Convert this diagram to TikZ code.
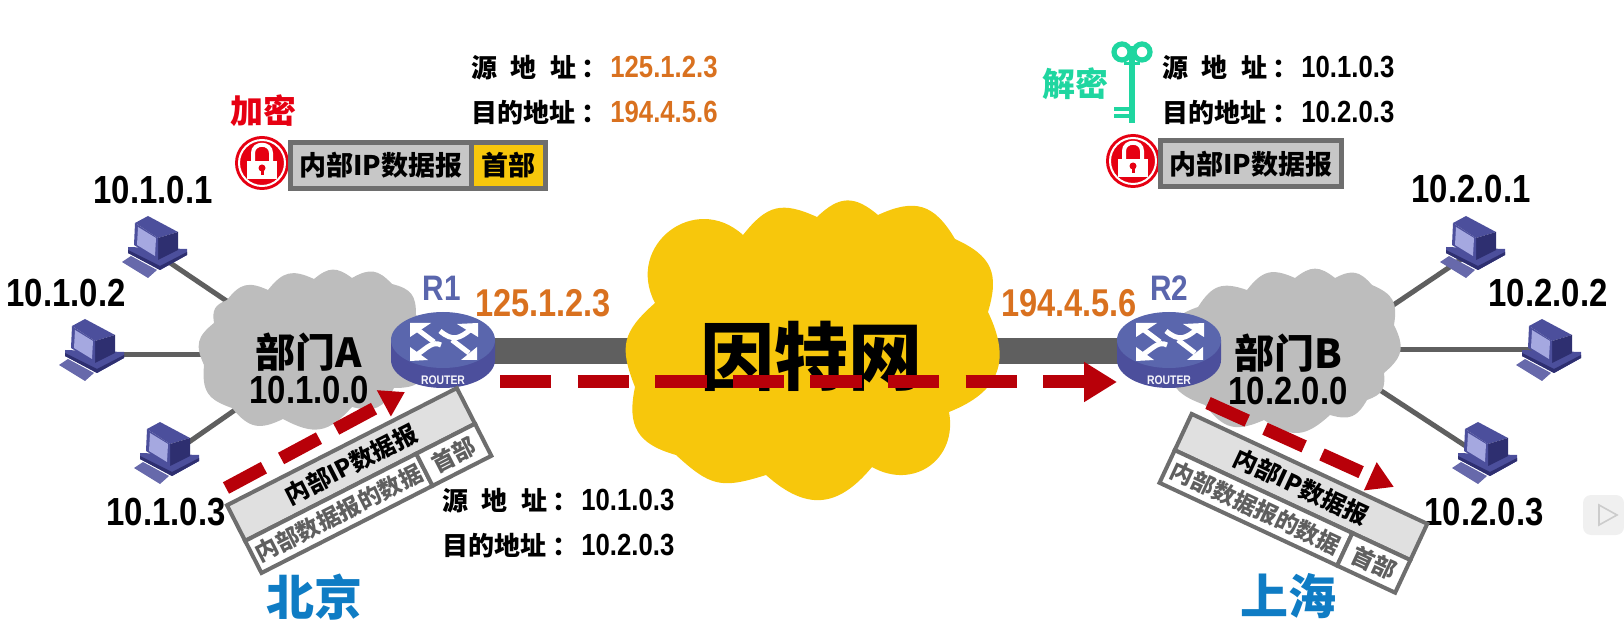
\documentclass[tikz,border=0pt]{standalone}
\usepackage{fontspec}
\setmainfont{Liberation Sans}[FakeStretch=0.84]
\newfontfamily\cjk{Noto Sans CJK SC}
\usepackage{tikz}
\usetikzlibrary{positioning, arrows.meta}
\definecolor{yelcloud}{HTML}{F7C70C}
\definecolor{graycloud}{HTML}{BDBDBD}
\definecolor{barcol}{HTML}{5F5F5F}
\definecolor{boxline}{HTML}{6E6E6E}
\definecolor{redarrow}{HTML}{B80009}
\definecolor{ipcol}{HTML}{D9711F}
\definecolor{rtcol}{HTML}{5A66AD}
\definecolor{keycol}{HTML}{1FD6A0}
\definecolor{lockred}{HTML}{E60012}
\definecolor{cityblue}{HTML}{0F7CC4}
\definecolor{pcdark}{HTML}{2E2F70}
\definecolor{pcmid}{HTML}{4C4F9C}
\definecolor{pcscreen}{HTML}{A5A8E0}
\newcommand{\fs}[1]{\fontsize{#1}{#1}\selectfont}
\newcommand{\addrend}[1]{\hspace{2.8pt}\makebox[14.2pt][l]{：}{\normalfont\bfseries\fs{15.3}#1}}
\newcommand{\srcline}[1]{\makebox[52.5pt][s]{源\hfill 地\hfill 址}\addrend{#1}}
\newcommand{\dstline}[1]{\makebox[52.5pt][s]{目的地址}\addrend{#1}}
\tikzstyle{hostip} = [font=\bfseries\fs{19.6}, inner sep=0pt]
\tikzstyle{extip} = [font=\bfseries\fs{19.4}, text=ipcol, inner sep=0pt]
\tikzstyle{rlabel} = [font=\bfseries\fs{17.7}, text=rtcol, inner sep=0pt]
\tikzstyle{addrtext} = [font=\cjk\bfseries\fs{13}, anchor=base west, inner sep=0pt]
\tikzstyle{cntext} = [font=\cjk\bfseries\fs{20}, inner sep=0pt]
\tikzstyle{citytext} = [font=\cjk\bfseries\fs{24}, text=cityblue, inner sep=0pt]
\tikzstyle{tagtext} = [font=\cjk\bfseries\fs{16.5}, inner sep=0pt]
\tikzstyle{pktrect} = [rectangle, draw=boxline, line width=2.5pt, outer sep=0pt, inner sep=0pt,
minimum height=23pt,
font=\cjk\bfseries\fs{13.5}]
\tikzstyle{slantrect} = [rectangle, draw=boxline, line width=2pt, outer sep=0pt, inner sep=0pt,
font=\cjk\bfseries\fs{12}]
\tikzstyle{slantlow} = [slantrect, fill=white, anchor=north west, minimum height=18pt,
text=barcol, font=\cjk\bfseries\fs{11.5}]
\tikzstyle{link} = [draw=barcol, line width=2.5pt]
\tikzstyle{redflow} = [draw=redarrow, line width=6.5pt, dash pattern=on 21.5pt off 9.75pt]
\tikzstyle{lobes} = [every to/.style={bend left=38, looseness=1.3}]
\tikzset{
  pc/.pic={
    \fill[pcmid] (-26,-5) -- (33,-3) -- (33,3) -- (6,18) -- (-26,1) -- cycle;
    \fill[pcdark] (-26,1) -- (6,18) -- (33,3) -- (33,0) -- (6,14) -- (-26,-2) -- cycle;
    \fill[pcmid!85!white] (-32,10) -- (-23,4) -- (3,18) -- (-6,26) -- cycle;
    \fill[pcmid] (-19,-29) -- (-6,-36) -- (24,-20) -- (4,-14) -- cycle;
    \fill[pcdark] (4,-14) -- (24,-20) -- (24,-2) -- (4,8) -- cycle;
    \fill[pcmid] (-19,-29) -- (4,-14) -- (4,8) -- (-20,-7) -- cycle;
    \fill[pcscreen] (-16,-25) -- (2,-14) -- (1,4) -- (-17,-7) -- cycle;
  },
  routerpic/.pic={
    \fill[pcmid] (-52,-11) -- (-52,9) arc[start angle=180, end angle=360, x radius=52, y radius=-28] -- (52,-11) -- cycle;
    \fill[rtcol] (0,-11) ellipse[x radius=52, y radius=28];
    \fill[white] (-33,-28) -- (-12,-28) -- (-33,-14) -- cycle;
    \fill[white] (35,-28) -- (14,-27) -- (35,-14) -- cycle;
    \fill[white] (-33,10) -- (-33,-4) -- (-15,9) -- cycle;
    \fill[white] (34,9) -- (34,-4) -- (18,9) -- cycle;
    \draw[white, line width=2.5pt] (-25,-21) -- (-9,-9);
    \draw[white, line width=2.5pt] (27,-21) .. controls (17,-13) and (10,-9) .. (-3,-20);
    \draw[white, line width=2.5pt] (-25,3) .. controls (-15,-4) and (-10,-10) .. (-2,-6);
    \draw[white, line width=2.5pt] (26,2) -- (9,-11);
    \node (-rt) [text=white!90!pcscreen, font=\bfseries\fs{6.2}, inner sep=0pt] at (0,29) {ROUTER};
  },
  lockpic/.pic={
    \fill[lockred] (0,0) circle[radius=27];
    \draw[white, line width=1pt] (0,0) circle[radius=23];
    \draw[white, line width=2pt] (-9,-2) -- (-9,-10) .. controls (-9,-21) and (9,-21) .. (9,-10) -- (9,-2);
    \fill[white] (-15,-2) rectangle (15,16);
    \fill[lockred] (0,5) circle[radius=3.5];
    \fill[lockred] (-1.5,5) rectangle (1.5,12);
  }
}
\begin{document}
\begin{tikzpicture}[x=0.5pt, y=-0.5pt]
\useasboundingbox (0,0) rectangle (1624,620);
\coordinate (r1) at (443,351);
\coordinate (r2) at (1169,351);
\coordinate (pc11) at (154,252);
\coordinate (pc12) at (91,355);
\coordinate (pc13) at (166,458);
\coordinate (pc21) at (1472,252);
\coordinate (pc22) at (1548,355);
\coordinate (pc23) at (1484,458);
\coordinate (pa1) at (240,310);
\coordinate (pa2) at (215,355);
\coordinate (pa3) at (245,403);
\coordinate (pb1) at (1380,314);
\coordinate (pb2) at (1390,350);
\coordinate (pb3) at (1360,377);

\draw [barcol, line width=13pt] (r1) -- (r2);
\draw [link] (pc11) -- (pa1);
\draw [link] (pc12) -- (pa2);
\draw [link] (pc13) -- (pa3);
\draw [link] (pc21) -- (pb1);
\draw [link] ([yshift=2.5pt]pc22) -- (pb2);
\draw [link] (pc23) -- (pb3);

\fill [yelcloud, lobes] (878,215) to[bend left=42] (955,239) to[bend left=41] (988,312) to[bend left=47] (949,412) to[bend left=65] (872,467) to[bend left=46] (766,475) to[bend left=30] (676,455) to[bend left=43] (635,387) to[bend left=35] (655,303) to[bend left=80, looseness=1.5] (743,235) to[bend left=38] (817,217) to[bend left=42] cycle;
\fill [graycloud, lobes] (227,300) to (268,290) to (314,279) to (352,278) to (392,284) to (416,315) to (430,360) to (394,388) to (352,407) to (283,419) to (232,408) to (204,365) to (214,323) to cycle;
\fill [graycloud, lobes] (1198,307) to (1247,290) to (1295,278) to (1335,278) to (1372,285) to (1394,325) to (1384,373) to (1367,400) to (1330,415) to (1264,420) to (1205,405) to (1170,350) to cycle;

\pic at (r1) {routerpic};
\pic at (r2) {routerpic};
\pic at (pc11) {pc};
\pic at (pc12) {pc};
\pic at (pc13) {pc};
\pic at (pc21) {pc};
\pic at (pc22) {pc};
\pic at (pc23) {pc};

\node (h11) [hostip] at (153,190) {10.1.0.1};
\node (h12) [hostip] at (66,293) {10.1.0.2};
\node (h13) [hostip] at (166,512) {10.1.0.3};
\node (h21) [hostip] at (1471,189) {10.2.0.1};
\node (h22) [hostip] at (1548,293) {10.2.0.2};
\node (h23) [hostip] at (1484,512) {10.2.0.3};
\node (rn1) [rlabel] at (442,288) {R1};
\node (rn2) [rlabel] at (1169,288) {R2};
\node (ext1) [extip] at (543,303) {125.1.2.3};
\node (ext2) [extip] at (1069,303) {194.4.5.6};
\node (depA) [cntext] at (309,352) {部门A};
\node (netA) [hostip] at (309,390) {10.1.0.0};
\node (depB) [cntext] at (1288,353) {部门B};
\node (netB) [hostip] at (1288,391) {10.2.0.0};
\node (inet) [cntext, font=\cjk\bfseries\fs{37}] at (811,356) {因特网};
\node (bj) [citytext] at (314,597) {北京};
\node (sh) [citytext] at (1288,596) {上海};

\node (srcA) [addrtext] at (471,78) {\srcline{\textcolor{ipcol}{125.1.2.3}}};
\node (dstA) [addrtext] at (471,123) {\dstline{\textcolor{ipcol}{194.4.5.6}}};
\node (srcB) [addrtext] at (1162,78) {\srcline{10.1.0.3}};
\node (dstB) [addrtext] at (1162,123) {\dstline{10.2.0.3}};
\node (srcC) [addrtext] at (442,510) {\srcline{10.1.0.3}};
\node (dstC) [addrtext] at (442,555) {\dstline{10.2.0.3}};

\node (enc) [tagtext, text=lockred] at (263,111) {加密};
\pic at (262,163) {lockpic};
\node (innerA) [pktrect, fill=graycloud!85!white, minimum width=90.5pt, anchor=west] at (290,165.5) {内部IP数据报};
\node (hdrA) [pktrect, fill=yelcloud, minimum width=37pt, right=0pt of innerA] {首部};
\pic at (1133,161) {lockpic};
\node (innerB) [pktrect, fill=graycloud!85!white, minimum width=90.5pt, anchor=west] at (1160,164) {内部IP数据报};

\node (dec) [tagtext, text=keycol] at (1075,84) {解密};
\draw [keycol, line width=2.6pt] (1122,52) circle[radius=8];
\draw [keycol, line width=2.6pt] (1142,52) circle[radius=8];
\draw [keycol, line width=3.2pt] (1132,46) -- (1132,123);
\draw [keycol, line width=1.5pt] (1124,64) -- (1140,64);
\draw [keycol, line width=2.4pt] (1114,109) -- (1132,109);
\draw [keycol, line width=2.4pt] (1114,116) -- (1132,116);

\node (upL) [slantrect, fill=black!12, rotate=27, minimum width=129pt, minimum height=20pt] at (351,464.5) {\raisebox{-3pt}{内部IP数据报}};
\node (dataL) [slantlow, rotate=27, minimum width=96pt] at (upL.south west) {内部数据报的数据};
\node (hdrL) [slantlow, rotate=27, minimum width=33pt] at (dataL.north east) {首部};

\node (upR) [slantrect, fill=black!12, rotate=-25, minimum width=130pt, minimum height=20pt] at (1301,487) {\raisebox{-3pt}{内部IP数据报}};
\node (dataR) [slantlow, rotate=-25, minimum width=98pt] at (upR.south west) {内部数据报的数据};
\node (hdrR) [slantlow, rotate=-25, minimum width=32pt] at (dataR.north east) {首部};

\coordinate (fa0) at (226,488);
\coordinate (fa1) at (405,392);
\coordinate (fb0) at (500,382);
\coordinate (fb1) at (1117,382);
\coordinate (fc0) at (1208,403);
\coordinate (fc1) at (1394,487);
\draw [redflow, -{Triangle[length=12pt,width=14pt]}] (fa0) -- (fa1);
\draw [redflow, dash pattern=on 25.7pt off 13.1pt, -{Triangle[length=16.5pt,width=19pt]}] (fb0) -- (fb1);
\draw [redflow, -{Triangle[length=13pt,width=14.5pt]}] (fc0) -- (fc1);

\fill [black!6, rounded corners=4pt] (1583,495) rectangle (1624,535);
\draw [black!20, line width=.8pt] (1599,505) -- (1599,525) -- (1617,515) -- cycle;
\end{tikzpicture}
\end{document}
